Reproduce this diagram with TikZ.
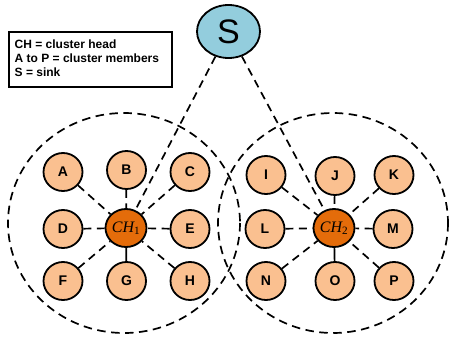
\documentclass[tikz,border=0pt]{standalone}
\usepackage{fontspec}
\setmainfont{Liberation Sans}
\newfontfamily\tnr{Liberation Serif}
\usetikzlibrary{shapes.geometric}
\definecolor{memberfill}{HTML}{FAC090}
\definecolor{headfill}{HTML}{E46C0A}
\definecolor{sinkfill}{HTML}{93CDDD}
\tikzset{
  member/.style={ellipse, draw=black, line width=1.8pt, fill=memberfill, minimum width=39pt, minimum height=38pt, inner sep=0pt, font=\fontsize{14}{16}\selectfont\bfseries},
  head/.style={ellipse, draw=black, line width=1.8pt, fill=headfill, minimum width=41pt, minimum height=38pt, inner sep=0pt, font=\fontsize{16}{18}\selectfont\tnr\itshape},
  sinknode/.style={ellipse, draw=black, line width=1.8pt, fill=sinkfill, minimum width=63pt, minimum height=53pt, inner sep=0pt, font=\fontsize{34}{36}\selectfont},
  link/.style={line width=1.7pt, dash pattern=on 8pt off 5.5pt},
  clusterline/.style={line width=1.7pt, dash pattern=on 8.5pt off 5.5pt},
}
\begin{document}
\begin{tikzpicture}[x=1pt,y=-1pt]
\useasboundingbox (0,0) rectangle (449,340);
% clusters
\draw[clusterline] (124,223) ellipse [x radius=116, y radius=110];
\draw[clusterline] (333,223) ellipse [x radius=115, y radius=110];
% legend
\node[draw=black, line width=1.6pt, minimum width=163pt, minimum height=55pt, anchor=north west, inner sep=0pt] (legend) at (8,31) {};
\node[anchor=west, align=left, font=\fontsize{12}{14}\selectfont\bfseries, inner sep=0pt] (legtext) at (14.5,58) {CH = cluster head\\A to P = cluster members\\S = sink};
% sink
\node[sinknode] (S) at (228.5,31.5) {S};
% cluster heads
\node[head] (CH1) at (126,228) {CH\textsubscript{\tnr\upshape 1}};
\node[head] (CH2) at (334,228) {CH\textsubscript{\tnr\upshape 2}};
% members left
\node[member] (A) at (63,172) {A};
\node[member] (B) at (126.5,170) {B};
\node[member] (C) at (190,172) {C};
\node[member] (D) at (63,229) {D};
\node[member] (E) at (190,229) {E};
\node[member] (F) at (63,281) {F};
\node[member] (G) at (126.5,281) {G};
\node[member] (H) at (190,281) {H};
% members right
\node[member] (I) at (266,175) {I};
\node[member] (J) at (335,176) {J};
\node[member] (K) at (394,175) {K};
\node[member] (L) at (265,229) {L};
\node[member] (M) at (393,229) {M};
\node[member] (N) at (266,281) {N};
\node[member] (O) at (335,281) {O};
\node[member] (P) at (394,281) {P};
% links
\foreach \m in {A,B,C,D,E,F,H} \draw[link] (\m) -- (CH1);
\draw[line width=1.7pt] (G) -- (CH1);
\foreach \m in {I,J,K,L,M,N,P} \draw[link] (\m) -- (CH2);
\draw[line width=1.7pt] (O) -- (CH2);
\draw[link] (S) -- (CH1);
\draw[link] (S) -- (CH2);
\end{tikzpicture}
\end{document}
